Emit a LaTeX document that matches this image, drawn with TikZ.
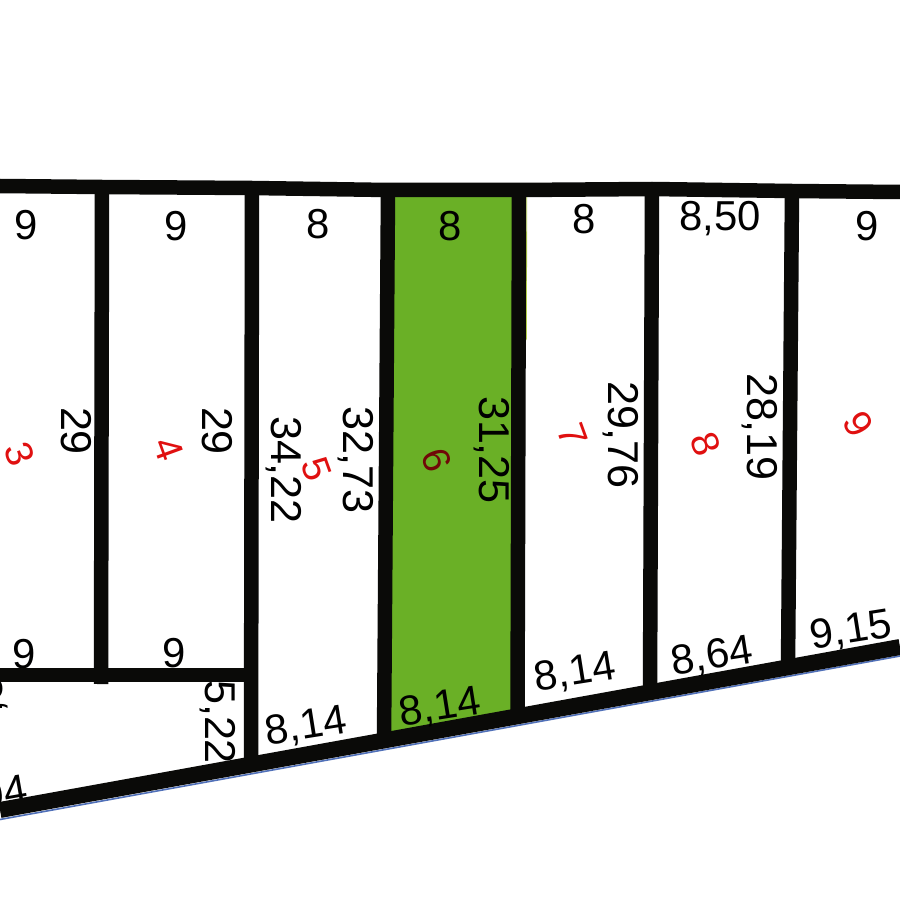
\documentclass[tikz,border=0pt]{standalone}
\usepackage{fontspec}
\setmainfont{Liberation Sans}
\definecolor{wallk}{HTML}{0A0A08}
\definecolor{plot}{HTML}{6AB026}
\definecolor{bluee}{HTML}{5070B8}
\definecolor{redd}{HTML}{E01010}
\definecolor{sliver}{HTML}{B4D04A}
\tikzset{
  wall/.style={line width=11.6pt, draw=wallk, line cap=butt},
  lbl/.style={inner sep=0pt, font=\fontsize{33.5}{33.5}\selectfont, text=black},
  slbl/.style={inner sep=0pt, font=\fontsize{34.5}{34.5}\selectfont, text=black},
  rlbl/.style={inner sep=0pt, font=\fontsize{31}{31}\selectfont, text=redd},
}
\begin{document}
\begin{tikzpicture}[x=0.8pt,y=-0.8pt]
\useasboundingbox (0,0) rectangle (900,900);
\fill[white] (0,0) rectangle (900,900);
% green plot
\fill[plot] (392,192) -- (514,192) -- (514,712) -- (388,736) -- cycle;
\draw[sliver, line width=0.7pt] (526.8,197) -- (526.3,340);
% coords
\coordinate (tl) at (0,186);
\coordinate (t0) at (102,187);
\coordinate (t1) at (252,188);
\coordinate (t2) at (388,190);
\coordinate (t3) at (519,190);
\coordinate (t4) at (652,189);
\coordinate (t5) at (792,191);
\coordinate (tr) at (900,192);
\coordinate (bl) at (0,810);
\coordinate (br) at (900,647);
\coordinate (b1) at (251,765);
\coordinate (b2) at (384,741);
\coordinate (b3) at (517.5,716);
\coordinate (b4) at (650,692);
\coordinate (b5) at (788,667);
\coordinate (m0) at (101,684);
\coordinate (ml) at (0,675);
\coordinate (mr) at (250,675);
\coordinate (bluel) at (0,819.5);
\coordinate (bluer) at (900,656);
% blue edge
\draw[bluee, line width=1.3pt] (bluel) -- (bluer);
% labels that walls cover in part
\node[slbl,rotate=-90] (s8) at (218,722) {5,22};
\node[slbl,rotate=90,anchor=base west] (s9) at (3,713) {,5};
\node[lbl,rotate=10,anchor=east] (c8) at (27,788) {94};
\node[lbl] (c1) at (24,654) {9};
\node[lbl] (c2) at (174,653) {9};
% outer walls
\draw[wall] (tl) -- (t0) -- (t1) -- (t2) -- (t3) -- (t4) -- (t5) -- (tr);
\draw[wall, line width=12.8pt] (bl) -- (br);
% verticals
\draw[wall] (t1) -- (b1);
\draw[wall] (t2) -- (b2);
\draw[wall] (t3) -- (b3);
\draw[wall] (t4) -- (b4);
\draw[wall] (t5) -- (b5);
\draw[wall] (t0) -- (m0);
\draw[wall] (ml) -- (mr);
% top labels
\node[lbl] (a1) at (26,225) {9};
\node[lbl] (a2) at (176,226) {9};
\node[lbl] (a3) at (318,224) {8};
\node[lbl] (a4) at (450,226) {8};
\node[lbl] (a5) at (584,219) {8};
\node[lbl] (a6) at (720,219) {8,50};
\node[lbl] (a7) at (867,226) {9};
% bottom labels
\node[lbl,rotate=9] (c3) at (306,727) {8,14};
\node[lbl,rotate=9] (c4) at (440,708) {8,14};
\node[lbl,rotate=9] (c5) at (575,673) {8,14};
\node[lbl,rotate=9] (c6) at (712,657) {8,64};
\node[lbl,rotate=9] (c7) at (851,631) {9,15};
% side labels
\node[slbl,rotate=-90] (s1) at (76,431) {29};
\node[slbl,rotate=-90] (s2) at (217,431) {29};
\node[slbl,rotate=-90] (s3) at (284,470) {34,22};
\node[slbl,rotate=-90] (s4) at (356,460) {32,73};
\node[slbl,rotate=-90] (s5) at (492,450) {31,25};
\node[slbl,rotate=-90] (s6) at (621,435) {29,76};
\node[slbl,rotate=-90] (s7) at (760,427) {28,19};
% red numbers
\node[rlbl,rotate=-70] (r3) at (20,454) {3};
\node[rlbl,rotate=-70] (r4) at (169,449) {4};
\node[rlbl,rotate=-70] (r5) at (317,469) {5};
\node[rlbl,rotate=-70,text=redd!50!black] (r6) at (437,460) {6};
\node[rlbl,rotate=-70] (r7) at (573,435) {7};
\node[rlbl,rotate=-70] (r8) at (706,444) {8};
\node[rlbl,rotate=-60] (r9) at (858,424) {9};
\end{tikzpicture}
\end{document}
